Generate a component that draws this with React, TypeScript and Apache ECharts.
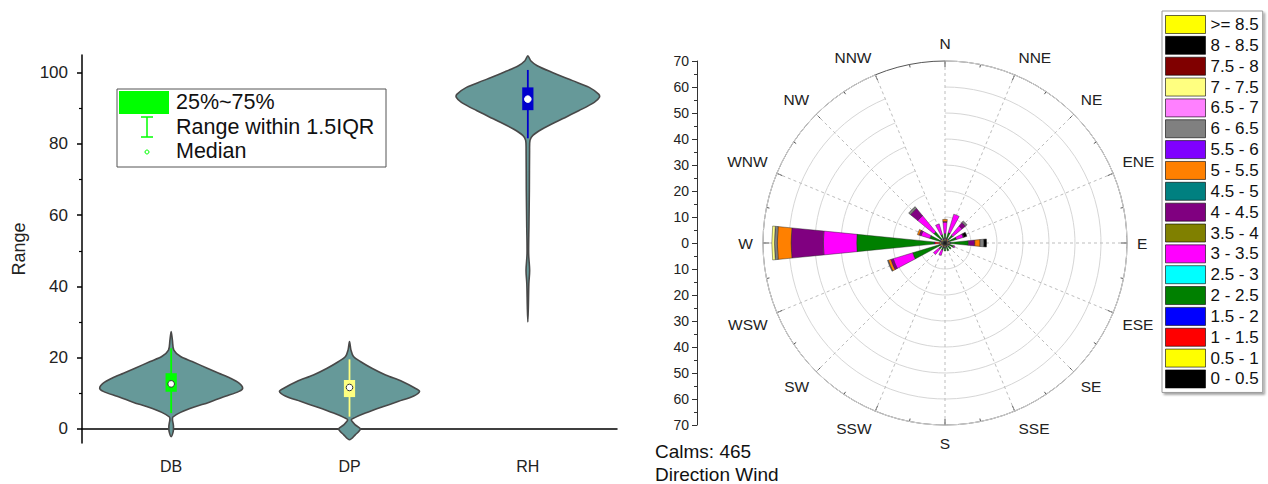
import React, { useEffect, useRef } from 'react';
import * as echarts from 'echarts';

// ---------- Left chart: violins ----------
const categories = ['DB', 'DP', 'RH'];
const yTickValues = [0, 20, 40, 60, 80, 100];
const yMinorTickValues = [10, 30, 50, 70, 90];

// [value, relative half-width of the density]
const dbProfile = [
  [27.3, 0], [24.9, 0.017], [22.1, 0.037], [20.3, 0.13], [18.9, 0.29], [17.0, 0.5],
  [15.6, 0.66], [14.2, 0.82], [12.8, 0.94], [11.4, 0.99], [10.5, 0.94], [9.1, 0.75],
  [7.4, 0.52], [6.1, 0.32], [4.6, 0.13], [3.3, 0.024], [2.5, 0.018], [1.6, 0.026],
  [0.6, 0.032], [-0.8, 0.028], [-2.2, 0],
];
const dpProfile = [
  [24.5, 0], [22.1, 0.02], [20.3, 0.055], [18.9, 0.15], [17.0, 0.31], [15.1, 0.5],
  [13.3, 0.73], [11.4, 0.91], [10.5, 0.97], [9.2, 0.89], [7.7, 0.68], [6.1, 0.45],
  [4.4, 0.22], [3.2, 0.08], [2.5, 0.025], [1.1, 0.08], [-0.1, 0.15], [-1.7, 0.08], [-3.1, 0],
];
const rhProfile = [
  [104.8, 0], [103.4, 0.04], [102.0, 0.13], [100.1, 0.34], [97.8, 0.62], [95.9, 0.85],
  [94.0, 0.98], [93.1, 0.99], [91.7, 0.92], [89.4, 0.71], [86.6, 0.43], [84.2, 0.2],
  [82.4, 0.07], [81.0, 0.03], [78.2, 0.024], [67.0, 0.021], [56.7, 0.015], [49.2, 0.011],
  [44.5, 0.025], [40.8, 0.014], [34.3, 0.007], [30.0, 0],
];
const q1 = [10.4, 8.9, 89.5];
const q3 = [15.6, 13.7, 95.9];
const whiskerLow = [4.4, 3.4, 81.6];
const whiskerHigh = [22.6, 19.5, 100.8];
const medians = [12.6, 11.6, 92.6];
const boxColors = ['#00ff00', '#ffff80', '#0000cc'];

// ---------- Right chart: wind rose ----------
const directions = ['N', 'NNE', 'NE', 'ENE', 'E', 'ESE', 'SE', 'SSE', 'S', 'SSW', 'SW', 'WSW', 'W', 'WNW', 'NW', 'NNW'];
const radiusTicks = [-70, 70];

const speed_0_05 = [1.1, 1.3, 1.2, 1.0, 1.4, 1.2, 1.1, 1.0, 1.2, 1.3, 1.2, 1.4, 1.6, 1.2, 1.3, 1.1];
const speed_05_1 = [0.3, 0.2, 0.3, 0.2, 0.3, 0.2, 0.2, 0.2, 0.3, 0.2, 0.3, 0.3, 0.5, 0.3, 0.3, 0.2];
const speed_1_15 = [0.3, 0.2, 0.2, 0.2, 0.3, 0.2, 0.2, 0.2, 0.2, 0.2, 0.3, 0.4, 1.9, 0.3, 0.3, 0.2];
const speed_15_2 = [0.2, 0.2, 0.2, 0.2, 0.2, 0.2, 0.2, 0.1, 0.2, 0.2, 0.2, 0.2, 0.3, 0.2, 0.2, 0.2];
const speed_2_25 = [1.8, 2.3, 2.1, 3.0, 6.8, 1.7, 1.4, 1.7, 1.2, 0.9, 1.0, 10.7, 29.7, 4.1, 3.5, 1.6];
const speed_25_3 = [0, 0, 0, 0, 0, 0, 0, 0, 0, 0, 0, 0, 0, 0, 0, 0];
const speed_3_35 = [4.3, 7.4, 4.5, 2.7, 0, 0.5, 0, 0, 0, 2.2, 2.8, 7.8, 12.8, 3.5, 8.0, 4.4];
const speed_35_4 = [0, 0, 0, 0, 0, 0, 0, 0, 0, 0, 0, 0, 0, 0, 0, 0];
const speed_4_45 = [0.3, 0, 1.7, 0.3, 2.5, 0, 0, 0, 0, 0, 0, 1.0, 12.4, 0.8, 3.6, 0];
const speed_45_5 = [0, 0, 0, 0, 0, 0, 0, 0, 0, 0, 0, 0, 0, 0, 0, 0];
const speed_5_55 = [0.8, 0, 0, 0, 2.0, 0, 0, 0, 0, 0, 0, 1.0, 5.3, 0.7, 0, 0];
const speed_55_6 = [0, 0, 0, 0, 0, 0, 0, 0, 0, 0, 0, 0, 0, 0, 0, 0];
const speed_6_65 = [0, 0, 0.8, 0, 1.5, 0, 0, 0, 0, 0, 0, 0.3, 1.1, 0, 0.9, 0];
const speed_65_7 = [0, 0, 0, 0, 0, 0, 0, 0, 0, 0, 0, 0, 0, 0, 0, 0];
const speed_7_75 = [0, 0, 0, 0, 0, 0, 0, 0, 0, 0, 0, 0, 1.0, 0, 0, 0];
const speed_75_8 = [0, 0, 0, 0, 0, 0, 0, 0, 0, 0, 0, 0, 0, 0, 0, 0];
const speed_8_85 = [0, 0, 0, 1.2, 1.0, 0, 0, 0, 0, 0, 0, 0, 0, 0, 0, 0];
const speed_85_up = [0, 0, 0, 0, 0, 0, 0, 0, 0, 0, 0, 0, 0, 0, 0, 0];

const speedBins = ['0 - 0.5', '0.5 - 1', '1 - 1.5', '1.5 - 2', '2 - 2.5', '2.5 - 3', '3 - 3.5', '3.5 - 4',
  '4 - 4.5', '4.5 - 5', '5 - 5.5', '5.5 - 6', '6 - 6.5', '6.5 - 7', '7 - 7.5', '7.5 - 8', '8 - 8.5', '>= 8.5'];
const speedData = [speed_0_05, speed_05_1, speed_1_15, speed_15_2, speed_2_25, speed_25_3, speed_3_35, speed_35_4,
  speed_4_45, speed_45_5, speed_5_55, speed_55_6, speed_6_65, speed_65_7, speed_7_75, speed_75_8, speed_8_85, speed_85_up];
const speedColors = ['#000000', '#ffff00', '#ff0000', '#0000ff', '#008000', '#00ffff', '#ff00ff', '#808000',
  '#800080', '#008080', '#ff8000', '#8000ff', '#808080', '#ff80ff', '#ffff80', '#800000', '#000000', '#ffff00'];

const calmsText = 'Calms: 465';
const titleText = 'Direction Wind';

const FONT = 'Liberation Sans, Arial, sans-serif';

function buildOption() {
  const profiles = [dbProfile, dpProfile, rhProfile];

  const violinSeries = {
    type: 'custom',
    xAxisIndex: 0,
    yAxisIndex: 0,
    data: categories.map((_, i) => [i, medians[i]]),
    encode: { x: 0, y: 1 },
    renderItem: (params: any, api: any) => {
      const i = params.dataIndex;
      const prof = profiles[i];
      const band = api.size([1, 0])[0];
      const maxHalf = band * 0.405;
      const left: number[][] = [];
      const right: number[][] = [];
      prof.forEach(([v, d]) => {
        const p = api.coord([i, v]);
        left.push([p[0] - d * maxHalf, p[1]]);
        if (d > 0) right.push([p[0] + d * maxHalf, p[1]]);
      });
      const points = left.concat(right.reverse());
      const top = api.coord([i, q3[i]]);
      const bottom = api.coord([i, q1[i]]);
      const wTop = api.coord([i, whiskerHigh[i]]);
      const wBot = api.coord([i, whiskerLow[i]]);
      const med = api.coord([i, medians[i]]);
      const boxW = band * 0.063;
      return {
        type: 'group',
        children: [
          {
            type: 'polygon',
            shape: { points, smooth: 0.3 },
            style: { fill: '#669999', stroke: '#484848', lineWidth: 1.6 },
          },
          {
            type: 'line',
            shape: { x1: wTop[0], y1: wTop[1], x2: wBot[0], y2: wBot[1] },
            style: { stroke: boxColors[i], lineWidth: 1.8 },
          },
          {
            type: 'rect',
            shape: { x: top[0] - boxW / 2, y: top[1], width: boxW, height: bottom[1] - top[1] },
            style: { fill: boxColors[i] },
          },
          {
            type: 'circle',
            shape: { cx: med[0], cy: med[1], r: 3.3 },
            style: { fill: '#ffffff', stroke: i === 2 ? '#ffffff' : '#333333', lineWidth: 1 },
          },
        ],
      };
    },
  };

  const roseSeries = speedData.map((arr, k) => ({
    type: 'bar',
    name: speedBins[k],
    coordinateSystem: 'polar',
    polarIndex: 0,
    stack: 'wind',
    barCategoryGap: '50%',
    data: arr.map((v) => (v > 0 ? v : null)),
    itemStyle: { color: speedColors[k], borderColor: 'rgba(30,30,30,0.85)', borderWidth: 0.5 },
    emphasis: { disabled: true },
  }));

  return {
    animation: false,
    textStyle: { fontFamily: FONT },
    grid: [
      { left: 82, right: 651, top: 55, bottom: 41 },
      { left: 697, top: 61, width: 10, height: 364 },
    ],
    xAxis: [
      {
        type: 'category',
        gridIndex: 0,
        data: categories,
        boundaryGap: true,
        axisLine: { lineStyle: { color: '#000', width: 1.5 } },
        axisTick: { alignWithLabel: true, length: 5, lineStyle: { color: '#000', width: 1.5 } },
        axisLabel: { fontSize: 16, color: '#222', margin: 15 },
        splitLine: { show: false },
      },
      { type: 'value', gridIndex: 1, show: false, min: 0, max: 1 },
    ],
    yAxis: [
      {
        type: 'value',
        gridIndex: 0,
        min: -4,
        max: 105,
        position: 'left',
        name: 'Range',
        nameLocation: 'middle',
        nameGap: 54,
        nameTextStyle: { fontSize: 18, color: '#222' },
        axisLine: { show: true, lineStyle: { color: '#000', width: 1.5 } },
        axisTick: { show: true, length: 5, customValues: yTickValues, lineStyle: { color: '#000', width: 1.5 } },
        axisLabel: { fontSize: 17, color: '#222', margin: 14, customValues: yTickValues },
        splitLine: { show: false },
      },
      {
        type: 'value',
        gridIndex: 0,
        min: -4,
        max: 105,
        position: 'left',
        offset: 0,
        axisLine: { show: false },
        axisTick: { show: true, length: 3, customValues: yMinorTickValues, lineStyle: { color: '#000', width: 1.2 } },
        axisLabel: { show: false },
        splitLine: { show: false },
      },
      {
        type: 'value',
        gridIndex: 1,
        min: radiusTicks[0],
        max: radiusTicks[1],
        interval: 10,
        position: 'left',
        axisLine: { show: true, lineStyle: { color: '#333', width: 1 } },
        axisTick: { show: true, length: 5, lineStyle: { color: '#333' } },
        minorTick: { show: true, splitNumber: 2, length: 3, lineStyle: { color: '#333' } },
        axisLabel: { fontSize: 14, color: '#222', margin: 8, formatter: (v: number) => String(Math.abs(v)) },
        splitLine: { show: false },
        minorSplitLine: { show: false },
      },
    ],
    polar: [
      { center: [945, 243], radius: 182 },
      { center: [945, 243], radius: 182 },
    ],
    angleAxis: [
      {
        polarIndex: 0,
        type: 'category',
        data: directions,
        boundaryGap: false,
        startAngle: 90,
        clockwise: true,
        axisLine: { show: false },
        axisTick: { show: true, inside: true, length: 6, lineStyle: { color: '#555' } },
        axisLabel: { fontSize: 15.5, color: '#222', margin: 10 },
        splitLine: { show: true, lineStyle: { color: '#bdbdbd', type: [3, 3], width: 1 } },
        z: 1,
      },
      {
        polarIndex: 1,
        type: 'value',
        min: 0,
        max: 360,
        interval: 11.25,
        startAngle: 90,
        clockwise: true,
        axisLine: { show: true, lineStyle: { color: '#555', width: 1 } },
        axisTick: { show: true, inside: true, length: 3, lineStyle: { color: '#555' } },
        axisLabel: { show: false },
        splitLine: { show: false },
      },
    ],
    radiusAxis: [
      {
        polarIndex: 0,
        type: 'value',
        min: 0,
        max: 70,
        interval: 10,
        axisLine: { show: false },
        axisTick: { show: false },
        axisLabel: { show: false },
        splitLine: { show: true, lineStyle: { color: '#d6d6d6', width: 1 } },
        z: 1,
      },
      {
        polarIndex: 1,
        type: 'value',
        min: 0,
        max: 70,
        show: false,
      },
    ],
    legend: {
      data: speedBins.slice().reverse(),
      orient: 'vertical',
      left: 1162,
      top: 11,
      itemWidth: 40,
      itemHeight: 18,
      itemGap: 1.85,
      icon: 'rect',
      selectedMode: false,
      padding: [4, 4, 4, 3],
      backgroundColor: '#ffffff',
      borderColor: '#9a9a9a',
      borderWidth: 1,
      shadowColor: 'rgba(0,0,0,0.35)',
      shadowBlur: 2,
      shadowOffsetX: 2,
      shadowOffsetY: 2,
      itemStyle: { borderColor: 'rgba(0,0,0,0.6)', borderWidth: 1 },
      textStyle: { fontSize: 17, color: '#111', padding: [0, 0, 0, 0] },
    },
    graphic: [
      {
        type: 'group',
        children: [
          { type: 'rect', shape: { x: 117, y: 89, width: 269, height: 78 }, style: { fill: '#fff', stroke: '#555', lineWidth: 1 } },
          { type: 'rect', shape: { x: 119, y: 91, width: 50, height: 23 }, style: { fill: '#00ff00' } },
          { type: 'line', shape: { x1: 147, y1: 117, x2: 147, y2: 137 }, style: { stroke: '#00ff00', lineWidth: 1.5 } },
          { type: 'line', shape: { x1: 141, y1: 117, x2: 153, y2: 117 }, style: { stroke: '#00ff00', lineWidth: 1.5 } },
          { type: 'line', shape: { x1: 141, y1: 137, x2: 153, y2: 137 }, style: { stroke: '#00ff00', lineWidth: 1.5 } },
          { type: 'circle', shape: { cx: 147, cy: 152, r: 2 }, style: { fill: '#fff', stroke: '#00ff00', lineWidth: 1 } },
          { type: 'text', x: 176, y: 102, style: { text: '25%~75%', fontSize: 21.5, fontFamily: FONT, fill: '#111', verticalAlign: 'middle' } },
          { type: 'text', x: 176, y: 127, style: { text: 'Range within 1.5IQR', fontSize: 21.5, fontFamily: FONT, fill: '#111', verticalAlign: 'middle' } },
          { type: 'text', x: 176, y: 151, style: { text: 'Median', fontSize: 21.5, fontFamily: FONT, fill: '#111', verticalAlign: 'middle' } },
        ],
      },
      { type: 'text', x: 655, y: 451, style: { text: calmsText, fontSize: 19, fontFamily: FONT, fill: '#111', verticalAlign: 'middle' } },
      { type: 'text', x: 655, y: 474, style: { text: titleText, fontSize: 19, fontFamily: FONT, fill: '#111', verticalAlign: 'middle' } },
    ],
    series: [violinSeries, ...roseSeries],
  };
}

export default function App() {
  const ref = useRef<HTMLDivElement>(null);
  useEffect(() => {
    if (!ref.current) return;
    const chart = echarts.init(ref.current, null, { renderer: 'svg' });
    chart.setOption(buildOption() as any);
    return () => chart.dispose();
  }, []);
  return (
    <div
      ref={ref}
      style={{ position: 'fixed', left: 0, top: 0, width: 1268, height: 484, background: '#ffffff' }}
    />
  );
}
